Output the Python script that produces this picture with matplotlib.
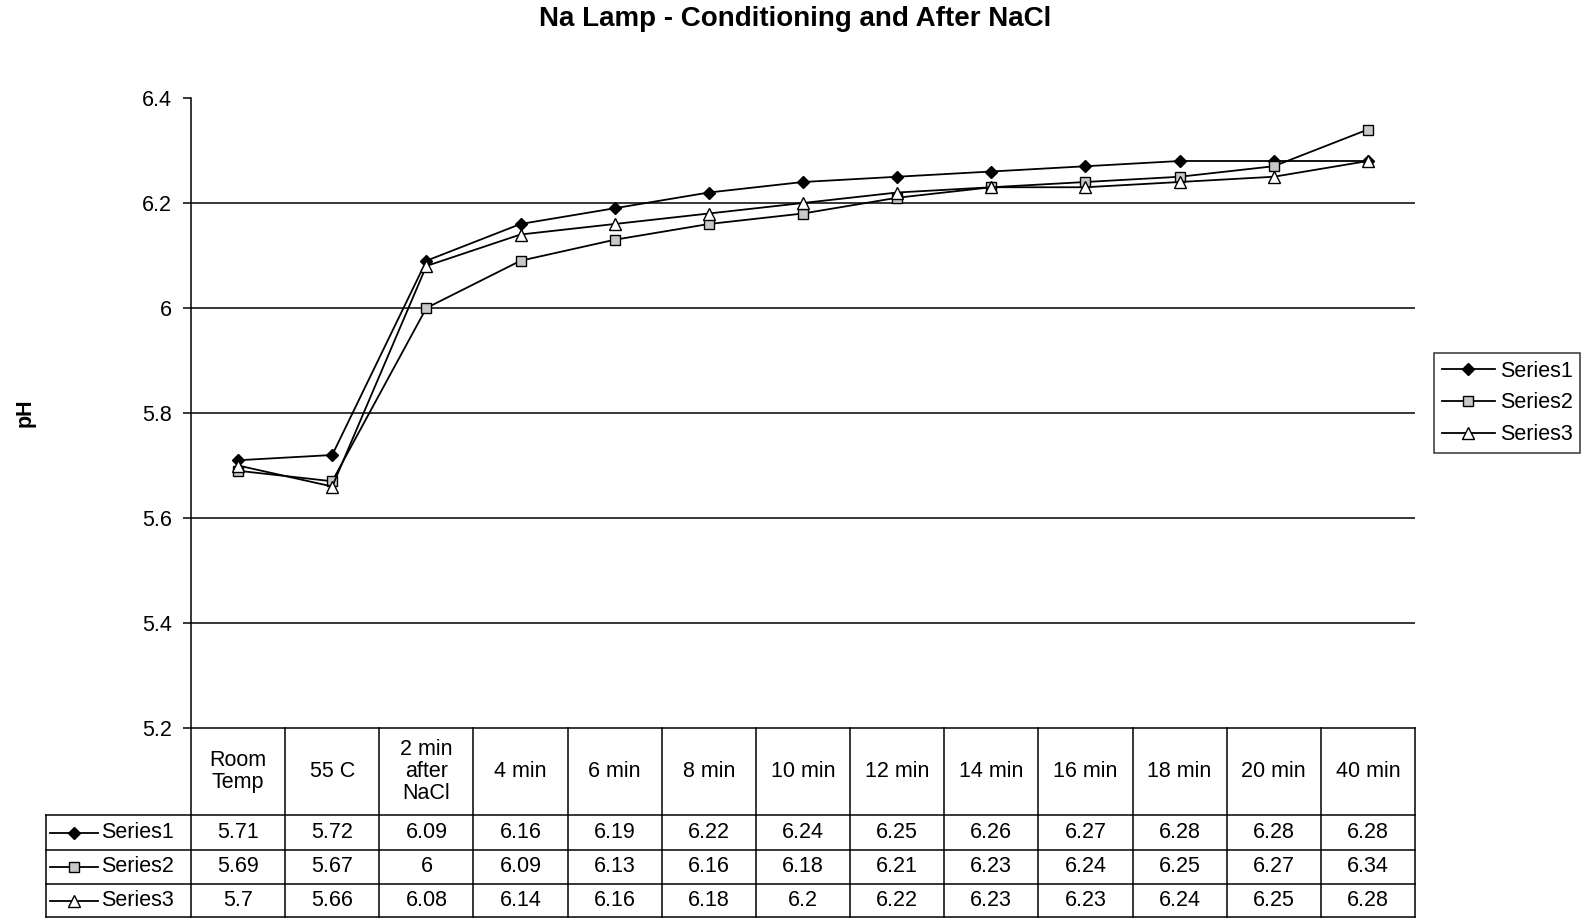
import matplotlib
matplotlib.use('Agg')
import matplotlib.pyplot as plt
from matplotlib.lines import Line2D

plt.rcParams['font.family'] = ['Liberation Sans', 'DejaVu Sans']

categories = ['Room\nTemp', '55 C', '2 min\nafter\nNaCl', '4 min', '6 min', '8 min', '10 min',
              '12 min', '14 min', '16 min', '18 min', '20 min', '40 min']
series1 = [5.71, 5.72, 6.09, 6.16, 6.19, 6.22, 6.24, 6.25, 6.26, 6.27, 6.28, 6.28, 6.28]
series2 = [5.69, 5.67, 6, 6.09, 6.13, 6.16, 6.18, 6.21, 6.23, 6.24, 6.25, 6.27, 6.34]
series3 = [5.7, 5.66, 6.08, 6.14, 6.16, 6.18, 6.2, 6.22, 6.23, 6.23, 6.24, 6.25, 6.28]
series_names = ['Series1', 'Series2', 'Series3']
yticks = [5.2, 5.4, 5.6, 5.8, 6.0, 6.2, 6.4]

styles = [dict(marker='D', ms=6, mfc='black', mec='black'),
          dict(marker='s', ms=7, mfc='#c8c8c8', mec='black'),
          dict(marker='^', ms=8, mfc='white', mec='black')]

FS = 15.5
W, H = 1591, 918
fig = plt.figure(figsize=(W / 100, H / 100), dpi=100)
ax = fig.add_axes([191 / W, (H - 728) / H, (1415 - 191) / W, (728 - 98) / H])

x = list(range(len(categories)))
for vals, name, st in zip([series1, series2, series3], series_names, styles):
    ax.plot(x, vals, color='black', lw=1.3, label=name, **st)

ax.set_xlim(-0.5, len(categories) - 0.5)
ax.set_ylim(5.2, 6.4)
ax.set_yticks(yticks)
ax.set_yticklabels(['5.2', '5.4', '5.6', '5.8', '6', '6.2', '6.4'], fontsize=FS)
ax.set_xticks([])
for y in yticks[1:-1]:
    ax.axhline(y, color='black', lw=1.1, zorder=0)
for s in ['top', 'right', 'bottom']:
    ax.spines[s].set_visible(False)
ax.spines['left'].set_linewidth(1.1)
ax.tick_params(axis='y', length=6, width=1.1, pad=8)
ax.set_ylabel('pH', fontsize=FS, fontweight='bold', labelpad=76)

fig.suptitle('Na Lamp - Conditioning and After NaCl', fontsize=20, fontweight='bold', y=0.993)

# data table below the axes
tr = ax.get_xaxis_transform()
ax_h = 728 - 98
col_px = (1415 - 191) / len(categories)
head_bot = -(815 - 728) / ax_h
row_edges = [head_bot, -(850 - 728) / ax_h, -(884 - 728) / ax_h, -(917 - 728) / ax_h]
x_left = -0.5 - (191 - 46) / col_px
x_right = len(categories) - 0.5
lk = dict(transform=tr, color='black', lw=1.1, clip_on=False)

ax.add_line(Line2D([-0.5, x_right], [0, 0], **lk))
for yy in row_edges:
    ax.add_line(Line2D([x_left, x_right], [yy, yy], **lk))
for i in range(len(categories) + 1):
    ax.add_line(Line2D([i - 0.5, i - 0.5], [0, row_edges[-1]], **lk))
ax.add_line(Line2D([x_left, x_left], [head_bot, row_edges[-1]], **lk))

for i, c in enumerate(categories):
    ax.text(i, head_bot / 2, c, transform=tr, ha='center', va='center', fontsize=FS,
            linespacing=1.05)

lx0 = x_left + 4 / col_px
lx1 = x_left + 52 / col_px
for r, (vals, name, st) in enumerate(zip([series1, series2, series3], series_names, styles)):
    yc = (row_edges[r] + row_edges[r + 1]) / 2
    for i, v in enumerate(vals):
        ax.text(i, yc, f'{v:g}', transform=tr, ha='center', va='center', fontsize=FS)
    ax.add_line(Line2D([lx0, lx1], [yc, yc], transform=tr, color='black', lw=1.3,
                       clip_on=False))
    ax.add_line(Line2D([(lx0 + lx1) / 2], [yc], transform=tr, ls='none', clip_on=False, **st))
    ax.text(lx1 + 3 / col_px, yc, name, transform=tr, ha='left', va='center', fontsize=FS)

leg = fig.legend(loc='upper left', bbox_to_anchor=(1434 / W, 1 - 353 / H), fontsize=FS,
                 frameon=True, fancybox=False, edgecolor='black', handlelength=2.5,
                 handletextpad=0.2, borderpad=0.35, labelspacing=0.5, borderaxespad=0)
leg.get_frame().set_linewidth(1.1)

fig.savefig('out.png', dpi=100)
